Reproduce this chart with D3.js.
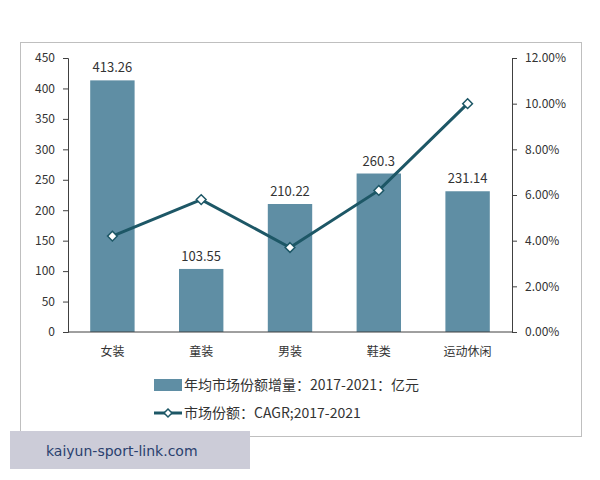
<!DOCTYPE html>
<html><head><meta charset="utf-8">
<script src="https://cdn.jsdelivr.net/npm/d3@7"></script>
<style>body{margin:0;background:#fff}</style>
</head><body>
<svg id="chart" width="600" height="480"></svg>
<script>
// データ
const categories = ['女装', '童装', '男装', '鞋类', '运动休闲'];
const increments = [413.26, 103.55, 210.22, 260.3, 231.14];
const cagr = [4.2, 5.8, 3.7, 6.2, 10.0];
const leftTicks = [0, 50, 100, 150, 200, 250, 300, 350, 400, 450];
const rightTicks = [0, 2, 4, 6, 8, 10, 12];

const svg = d3.select('#chart');
const font = '"Noto Sans CJK SC", "Noto Sans", sans-serif';

// 外枠
svg.append('rect').attr('x', 20.5).attr('y', 42.5).attr('width', 561).attr('height', 394)
    .attr('fill', '#fff').attr('stroke', '#bfbfbf');

const x = d3.scaleBand().domain(categories).range([68, 512]).paddingInner(0.5).paddingOuter(0.25);
const yL = d3.scaleLinear().domain([0, 450]).range([332, 58]);
const yR = d3.scaleLinear().domain([0, 12]).range([332, 58]);

// 左軸
const gl = svg.append('g').attr('transform', 'translate(68,0)')
    .call(d3.axisLeft(yL).tickValues(leftTicks).tickSize(5).tickPadding(8));
// 右軸
const gr = svg.append('g').attr('transform', 'translate(512,0)')
    .call(d3.axisRight(yR).tickValues(rightTicks).tickSize(5).tickPadding(8)
        .tickFormat(d => d.toFixed(2) + '%'));
[gl, gr].forEach(g => {
    g.select('.domain').attr('stroke', '#404040');
    g.selectAll('.tick line').attr('stroke', '#404040');
    g.selectAll('text').attr('font-family', font).attr('font-size', 12).attr('fill', '#333');
});

// 棒
svg.append('g').selectAll('rect').data(categories).join('rect')
    .attr('x', d => x(d)).attr('width', x.bandwidth())
    .attr('y', (d, i) => yL(increments[i]))
    .attr('height', (d, i) => 332 - yL(increments[i]))
    .attr('fill', '#5f8ea4');

// X軸
svg.append('line').attr('x1', 68).attr('x2', 512).attr('y1', 332).attr('y2', 332).attr('stroke', '#404040');
svg.append('g').selectAll('text').data(categories).join('text')
    .attr('x', d => x(d) + x.bandwidth() / 2).attr('y', 356)
    .attr('text-anchor', 'middle').attr('font-family', font).attr('font-size', 12).attr('fill', '#333')
    .text(d => d);

// 値ラベル
svg.append('g').selectAll('text').data(categories).join('text')
    .attr('x', d => x(d) + x.bandwidth() / 2).attr('y', (d, i) => yL(increments[i]) - 8)
    .attr('text-anchor', 'middle').attr('font-family', font).attr('font-size', 13).attr('fill', '#333')
    .text((d, i) => increments[i]);

// 折れ線
const line = d3.line().x((d, i) => x(categories[i]) + x.bandwidth() / 2).y(d => yR(d));
svg.append('path').datum(cagr).attr('d', line).attr('fill', 'none')
    .attr('stroke', '#1d5766').attr('stroke-width', 3);
svg.append('g').selectAll('path').data(cagr).join('path')
    .attr('d', d3.symbol(d3.symbolDiamond2, 60))
    .attr('transform', (d, i) => `translate(${x(categories[i]) + x.bandwidth() / 2},${yR(d)})`)
    .attr('fill', '#fff').attr('stroke', '#1d5766').attr('stroke-width', 1.5);

// 凡例
svg.append('rect').attr('x', 154).attr('y', 379).attr('width', 28).attr('height', 12).attr('fill', '#5f8ea4');
svg.append('text').attr('x', 184).attr('y', 390).attr('font-family', font).attr('font-size', 14).attr('fill', '#333')
    .text('年均市场份额增量：2017-2021：亿元');
svg.append('line').attr('x1', 154).attr('x2', 182).attr('y1', 413).attr('y2', 413)
    .attr('stroke', '#1d5766').attr('stroke-width', 3);
svg.append('path').attr('d', d3.symbol(d3.symbolDiamond2, 40))
    .attr('transform', 'translate(168,413)').attr('fill', '#fff').attr('stroke', '#1d5766').attr('stroke-width', 1.5);
svg.append('text').attr('x', 184).attr('y', 418).attr('font-family', font).attr('font-size', 14).attr('fill', '#333')
    .text('市场份额：CAGR;2017-2021');

// ウォーターマーク
svg.append('rect').attr('x', 10).attr('y', 431).attr('width', 240).attr('height', 38).attr('fill', '#ccccd8');
svg.append('text').attr('x', 46).attr('y', 456).attr('font-family', '"DejaVu Sans", sans-serif')
    .attr('font-size', 14).attr('fill', '#2a3f6e').text('kaiyun-sport-link.com');
</script>
</body></html>
